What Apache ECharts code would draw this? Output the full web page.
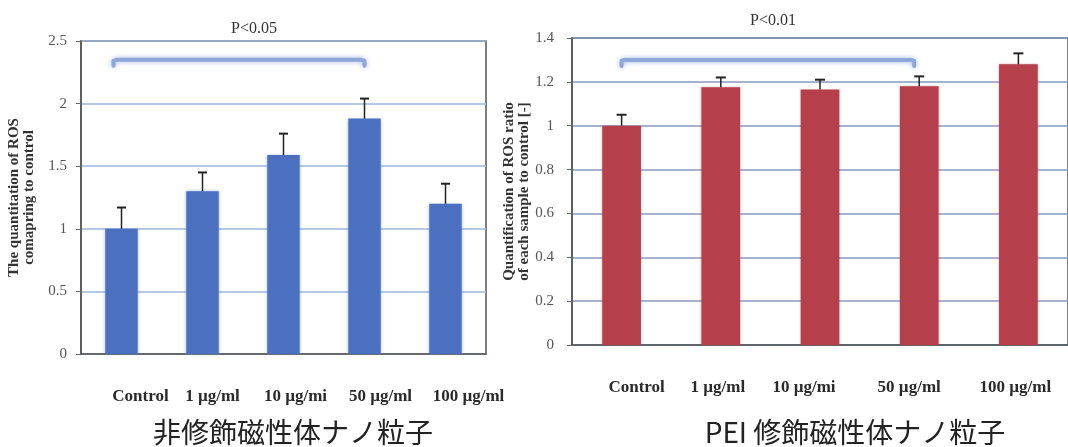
<!DOCTYPE html>
<html>
<head>
<meta charset="utf-8">
<script src="https://cdn.jsdelivr.net/npm/echarts@6/dist/echarts.min.js"></script>
<style>
html,body{margin:0;padding:0;background:#fff;}
#c{width:1068px;height:447px;}
</style>
</head>
<body>
<div id="c"></div>
<script>
const categories = ['Control', '1 µg/ml', '10 µg/mi', '50 µg/ml', '100 µg/ml'];
const leftMeans = [1.00, 1.30, 1.59, 1.88, 1.20];
const leftErrors = [0.17, 0.15, 0.17, 0.16, 0.16];
const rightMeans = [1.00, 1.175, 1.165, 1.18, 1.28];
const rightErrors = [0.05, 0.045, 0.045, 0.045, 0.05];
const leftTicks = [0, 0.5, 1, 1.5, 2, 2.5];
const rightTicks = [0, 0.2, 0.4, 0.6, 0.8, 1, 1.2, 1.4];
const leftBracket = [0, 3, 2.35];
const rightBracket = [0, 3, 1.30];
const leftTitle = '非修飾磁性体ナノ粒子';
const rightTitle = 'PEI 修飾磁性体ナノ粒子';
const leftP = 'P<0.05';
const rightP = 'P<0.01';
const leftYName = 'The quantitation of ROS\ncomapring to control';
const rightYName = 'Quantification of ROS ratio\nof each sample to control [-]';

const serif = '"Liberation Serif", "DejaVu Serif", serif';
const cjk = '"Noto Sans CJK JP", "Noto Sans", sans-serif';

const chart = echarts.init(document.getElementById('c'), null, {renderer: 'canvas'});

function errorSeries(means, errors, idx, capHalf) {
  return {
    type: 'custom', xAxisIndex: idx, yAxisIndex: idx, z: 5,
    data: means.map((m, i) => [i, m, m + errors[i]]),
    renderItem: function (params, api) {
      const p0 = api.coord([api.value(0), api.value(1)]);
      const p1 = api.coord([api.value(0), api.value(2)]);
      return {
        type: 'group',
        children: [
          {type: 'line', shape: {x1: p0[0], y1: p0[1], x2: p1[0], y2: p1[1]}, style: {stroke: '#222', lineWidth: 1.5}},
          {type: 'line', shape: {x1: p1[0] - capHalf, y1: p1[1], x2: p1[0] + capHalf, y2: p1[1]}, style: {stroke: '#222', lineWidth: 2}}
        ]
      };
    }
  };
}

function bracketSeries(br, idx, startShift, endShift) {
  return {
    type: 'custom', xAxisIndex: idx, yAxisIndex: idx, z: 6,
    data: [br],
    renderItem: function (params, api) {
      const a = api.coord([api.value(0), api.value(2)]);
      const b = api.coord([api.value(1), api.value(2)]);
      const x0 = a[0] + startShift, x1 = b[0] + endShift, y = a[1];
      return {
        type: 'polyline',
        shape: {points: [[x0, y + 6], [x0, y + 1], [x0 + 3, y], [x1 - 3, y], [x1, y + 1], [x1, y + 6]]},
        style: {stroke: '#8ea6d8', lineWidth: 4, fill: null, lineJoin: 'round', lineCap: 'round',
                shadowBlur: 5, shadowColor: 'rgba(150,175,225,0.9)'}
      };
    }
  };
}

function yAxis(idx, ticks, name, gap, margin) {
  return {
    type: 'value', gridIndex: idx, min: ticks[0], max: ticks[ticks.length - 1],
    interval: ticks[1] - ticks[0],
    name: name, nameLocation: 'middle', nameRotate: 90, nameGap: gap,
    nameTextStyle: {fontFamily: serif, fontWeight: 'bold', fontSize: 15, color: '#333', lineHeight: 15},
    axisLine: {show: true, lineStyle: {color: '#555', width: 1.5}},
    axisTick: {show: true, length: 5, lineStyle: {color: '#666'}},
    axisLabel: {fontFamily: serif, fontSize: 15, color: '#555', margin: margin},
    splitLine: {show: true, lineStyle: {color: idx === 0 ? '#9fb6da' : '#8a9abd', width: 1.5}}
  };
}

function xAxis(idx, pads) {
  return {
    type: 'category', gridIndex: idx,
    data: categories.map((c, i) => ({value: c, textStyle: {padding: pads[i]}})),
    axisLine: {show: true, lineStyle: {color: '#555', width: 1.5}},
    axisTick: {show: false},
    axisLabel: {fontFamily: serif, fontWeight: 'bold', fontSize: 17, color: '#2a2a2a', margin: 34, interval: 0}
  };
}

const option = {
  backgroundColor: '#fff',
  animation: false,
  title: [
    {text: leftP, left: 249, top: 16, textAlign: 'center', textStyle: {fontFamily: serif, fontSize: 16, fontWeight: 'normal', color: '#333'}},
    {text: rightP, left: 768, top: 8, textAlign: 'center', textStyle: {fontFamily: serif, fontSize: 16, fontWeight: 'normal', color: '#333'}},
    {text: leftTitle, left: 288, top: 413, textAlign: 'center', textStyle: {fontFamily: cjk, fontSize: 28, fontWeight: 'normal', color: '#222'}},
    {text: rightTitle, left: 850, top: 413, textAlign: 'center', textStyle: {fontFamily: cjk, fontSize: 28, fontWeight: 'normal', color: '#222'}}
  ],
  grid: [
    {left: 81, top: 41, width: 405, height: 313, show: true, borderColor: '#555', borderWidth: 1.5, backgroundColor: 'transparent'},
    {left: 572, top: 38, width: 498, height: 307, show: true, borderColor: '#555', borderWidth: 1.5, backgroundColor: 'transparent'}
  ],
  xAxis: [
    xAxis(0, [[0,0,0,38],[0,0,0,20],[0,0,0,24],[0,0,0,32],[0,0,0,46]]),
    xAxis(1, [[0,0,0,30],[0,6,0,0],[0,32,0,0],[0,20,0,0],[0,6,0,0]])
  ],
  yAxis: [
    yAxis(0, leftTicks, leftYName, 44, 14),
    yAxis(1, rightTicks, rightYName, 34, 18)
  ],
  series: [
    {type: 'bar', xAxisIndex: 0, yAxisIndex: 0, data: leftMeans, barWidth: '40%',
     itemStyle: {color: '#4a70bf', shadowBlur: 3, shadowColor: 'rgba(100,140,210,0.6)'}},
    errorSeries(leftMeans, leftErrors, 0, 4.5),
    bracketSeries(leftBracket, 0, -8, 0),
    {type: 'bar', xAxisIndex: 1, yAxisIndex: 1, data: rightMeans, barWidth: '39%',
     itemStyle: {color: '#b5404b', shadowBlur: 2, shadowColor: 'rgba(190,90,100,0.5)'}},
    errorSeries(rightMeans, rightErrors, 1, 5),
    bracketSeries(rightBracket, 1, 0, -5)
  ]
};
chart.setOption(option);
</script>
</body>
</html>
